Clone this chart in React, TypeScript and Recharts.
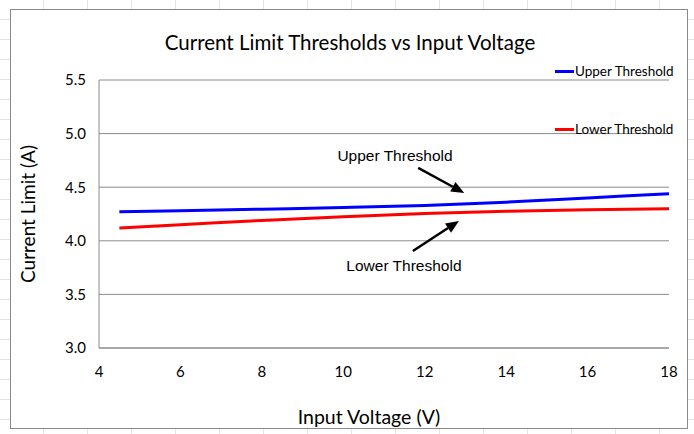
import React from 'react';
import {
    LineChart, Line, XAxis, YAxis, CartesianGrid, ReferenceLine, ReferenceDot, Label,
} from 'recharts';

const voltage = [4.5, 6, 8, 10, 12, 14, 16, 18];
const upperThreshold = [4.27, 4.28, 4.295, 4.31, 4.33, 4.36, 4.40, 4.44];
const lowerThreshold = [4.12, 4.15, 4.19, 4.225, 4.255, 4.275, 4.29, 4.30];

const xTicks = [4, 6, 8, 10, 12, 14, 16, 18];
const yTicks = [3.0, 3.5, 4.0, 4.5, 5.0, 5.5];

const SERIES = [
    { key: 'upper', name: 'Upper Threshold', color: '#0000ff' },
    { key: 'lower', name: 'Lower Threshold', color: '#ff0000' },
];

// annotation arrows (data coords): tail -> tip
const upperArrow = [{ x: 11.84, y: 4.68 }, { x: 12.97, y: 4.446 }];
const lowerArrow = [{ x: 11.71, y: 3.905 }, { x: 12.84, y: 4.185 }];
const upperNote = { x: 11.27, y: 4.8, text: 'Upper Threshold' };
const lowerNote = { x: 11.49, y: 3.774, text: 'Lower Threshold' };

const data = voltage.map((v, i) => ({ v, upper: upperThreshold[i], lower: lowerThreshold[i] }));

const FONT = 'Lato, "Open Sans", sans-serif';

const Arrow = (props: any) => {
    const { x1, y1, x2, y2 } = props;
    if ([x1, y1, x2, y2].some((n) => n == null || isNaN(n))) return null;
    const ang = Math.atan2(y2 - y1, x2 - x1);
    const len = 13;
    const half = 5.5;
    const bx = x2 - len * Math.cos(ang);
    const by = y2 - len * Math.sin(ang);
    const px = -Math.sin(ang) * half;
    const py = Math.cos(ang) * half;
    return (
        <g>
            <line x1={x1} y1={y1} x2={bx} y2={by} stroke="#000" strokeWidth={2.5} />
            <polygon points={`${x2},${y2} ${bx + px},${by + py} ${bx - px},${by - py}`} fill="#000" />
        </g>
    );
};

const Note = (text: string) => (props: any) => (
    <text
        x={props.cx}
        y={props.cy}
        textAnchor="middle"
        dominantBaseline="central"
        fontFamily='"Liberation Sans", Arial, sans-serif'
        fontSize={15.5}
        fill="#000"
    >
        {text}
    </text>
);

// legend drawn outside the chart so it doesn't eat plot width
const LegendBox = () => (
    <div style={{ position: 'absolute', left: 555, top: 63, fontFamily: FONT, fontSize: 13.5, color: '#000' }}>
        {SERIES.map((s, i) => (
            <div key={s.key} style={{ display: 'flex', alignItems: 'center', height: 16, marginBottom: i === 0 ? 42 : 0 }}>
                <span style={{ display: 'inline-block', width: 19, height: 3, background: s.color, marginRight: 1 }} />
                <span>{s.name}</span>
            </div>
        ))}
    </div>
);

const App: React.FC = () => {
    return (
        <div
            style={{
                position: 'fixed', left: 0, top: 0, width: 694, height: 434,
                background: '#fff',
                backgroundImage:
                    'repeating-linear-gradient(to bottom, transparent 0 19px, #e4e4e4 19px 20px), repeating-linear-gradient(to right, transparent 0 43px, #e4e4e4 43px 44px)',
            }}
        >
            <div
                style={{
                    position: 'absolute', left: 10, top: 9, width: 676, height: 418,
                    border: '1px solid #8a8a8a', background: '#fff',
                }}
            />
            <div
                style={{
                    position: 'absolute', left: 0, top: 30, width: 700, textAlign: 'center',
                    fontFamily: FONT, fontSize: 20.5, color: '#000',
                }}
            >
                Current Limit Thresholds vs Input Voltage
            </div>
            <div style={{ position: 'absolute', left: 0, top: 0 }}>
                <LineChart width={694} height={434} data={data} margin={{ top: 80, right: 25, bottom: 56, left: 39 }}>
                    <CartesianGrid vertical={false} stroke="#8c8c8c" strokeWidth={1} />
                    <XAxis
                        dataKey="v"
                        type="number"
                        domain={[4, 18]}
                        ticks={xTicks}
                        interval={0}
                        height={30}
                        axisLine={{ stroke: '#8c8c8c' }}
                        tickLine={false}
                        tickMargin={12}
                        tick={{ fontFamily: FONT, fontSize: 15, fill: '#000' }}
                    >
                        <Label
                            value="Input Voltage (V)"
                            position="insideBottom"
                            offset={-46}
                            dx={-15}
                            style={{ fontFamily: FONT, fontSize: 19.5, fill: '#000' }}
                        />
                    </XAxis>
                    <YAxis
                        type="number"
                        domain={[3, 5.5]}
                        ticks={yTicks}
                        interval={0}
                        width={60}
                        axisLine={{ stroke: '#8c8c8c' }}
                        tickLine={false}
                        tickMargin={7}
                        tickFormatter={(t: number) => t.toFixed(1)}
                        tick={{ fontFamily: FONT, fontSize: 15, fill: '#000' }}
                    >
                        <Label
                            value="Current Limit (A)"
                            angle={-90}
                            position="insideLeft"
                            offset={-11}
                            style={{ textAnchor: 'middle', fontFamily: FONT, fontSize: 19, fill: '#000' }}
                        />
                    </YAxis>
                    {SERIES.map((s) => (
                        <Line
                            key={s.key}
                            type="monotone"
                            dataKey={s.key}
                            name={s.name}
                            stroke={s.color}
                            strokeWidth={3}
                            dot={false}
                            activeDot={false}
                            isAnimationActive={false}
                        />
                    ))}
                    <ReferenceLine segment={upperArrow} shape={Arrow} ifOverflow="visible" />
                    <ReferenceLine segment={lowerArrow} shape={Arrow} ifOverflow="visible" />
                    <ReferenceDot x={upperNote.x} y={upperNote.y} r={0} shape={Note(upperNote.text)} ifOverflow="visible" />
                    <ReferenceDot x={lowerNote.x} y={lowerNote.y} r={0} shape={Note(lowerNote.text)} ifOverflow="visible" />
                </LineChart>
            </div>
            <LegendBox />
        </div>
    );
};

export default App;
